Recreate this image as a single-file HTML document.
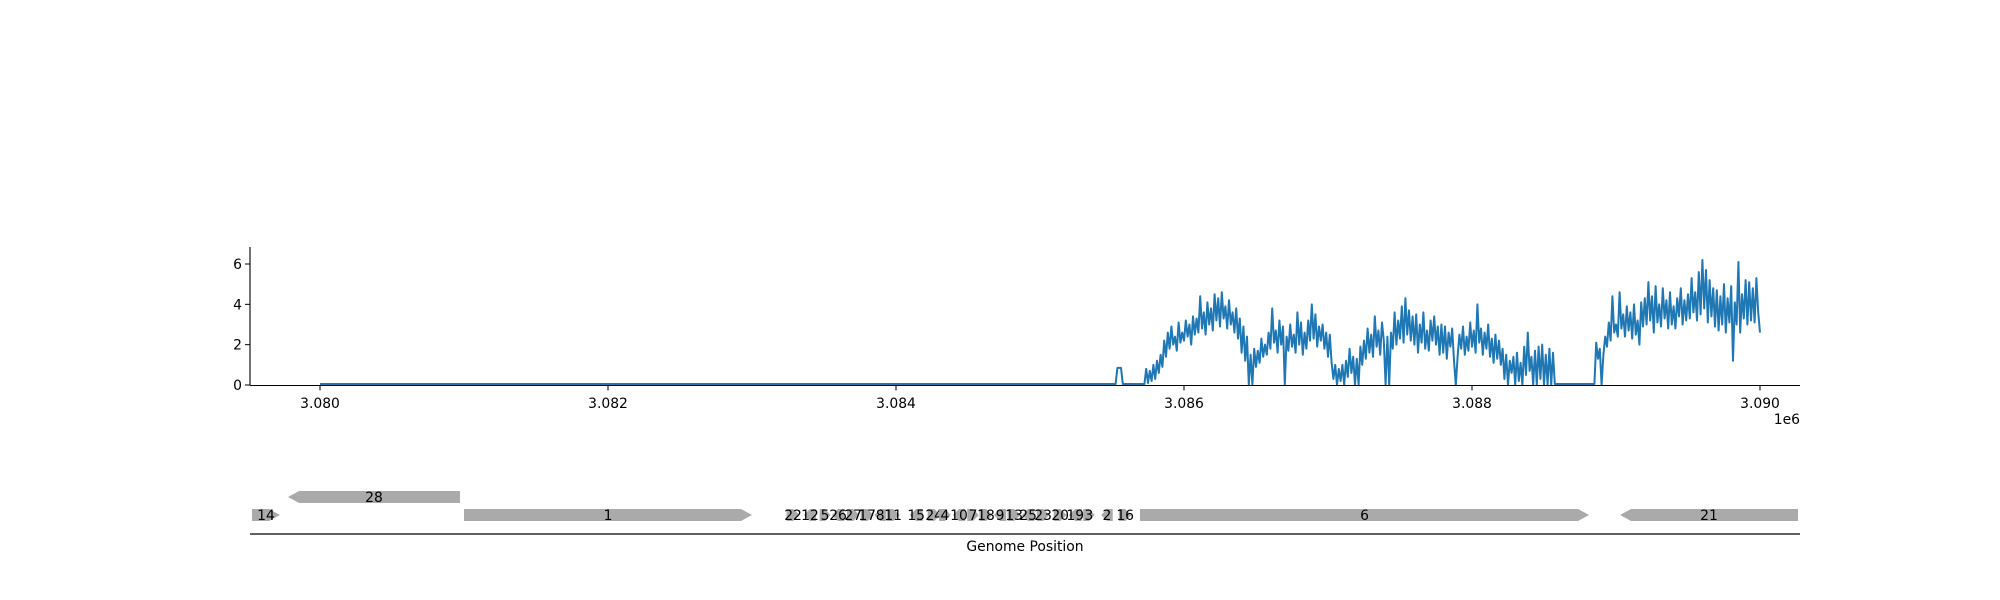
<!DOCTYPE html>
<html><head><meta charset="utf-8"><title>Coverage and gene track</title>
<style>
html,body{margin:0;padding:0;background:#fff;}
svg{display:block;font-family:"DejaVu Sans","Liberation Sans",sans-serif;}
</style></head>
<body>
<svg id="chart" width="2000" height="600" viewBox="0 0 2000 600" xmlns="http://www.w3.org/2000/svg">
<g id="cov"></g>
<g id="genes"></g>
</svg>
<script>
const flatStart = 3080000;
const flatValue = 0.05;
const stepBp = 12.5;
const covStarts = [3085500, 3085700, 3088850];
const covBlockA = [0.05,0.05,0.05,0.85,0.85,0.85,0.05,0.05];
const covBlockB = [
0.05,0.05,0.05,0.8,0.1,0.7,0.2,1.0, 0.3,1.2,0.6,1.5,0.9,2.2,1.4,2.6,
1.8,2.9,2.0,2.4,1.7,3.1,2.1,2.6, 2.2,3.2,2.4,3.0,2.0,3.4,2.5,3.3,
2.6,4.4,2.8,3.6,2.5,4.1,3.0,3.8, 2.7,4.5,3.2,4.3,2.9,4.6,3.3,3.9,
2.8,4.2,3.0,3.6,2.6,3.8,2.3,3.3, 1.6,2.9,1.2,2.4,0.0,1.5,0.0,1.8,
0.9,1.7,1.1,2.3,1.4,2.0,1.5,2.6, 1.8,3.8,2.1,2.7,1.6,3.2,2.0,2.9,
0.0,2.4,1.7,3.0,1.9,2.5,1.6,3.6, 2.0,3.1,1.5,2.6,1.8,3.2,2.2,4.0,
2.3,3.5,1.9,2.9,2.2,3.0,1.8,2.6, 1.4,2.5,1.1,0.3,1.0,0.0,0.8,0.2,
1.0,0.0,1.2,0.4,1.8,0.6,1.4,0.0, 1.3,0.0,1.9,1.0,2.2,1.3,2.8,1.6,
2.5,1.4,3.4,1.9,2.7,1.5,3.1,2.2, 0.0,2.4,0.0,2.6,1.8,3.6,2.0,3.2,
2.3,3.9,2.1,4.3,2.5,3.7,2.2,3.4, 2.0,3.5,1.6,3.0,2.1,3.6,1.8,2.7,
1.7,3.2,2.2,3.4,2.0,2.9,1.5,3.0, 1.6,2.9,1.3,2.6,1.9,2.8,1.2,0.0,
1.4,2.5,1.8,2.9,1.5,2.4,1.7,3.1, 1.9,2.7,1.6,4.0,2.1,2.8,1.5,2.6,
1.8,3.0,1.4,2.3,1.1,2.5,1.3,2.2, 1.0,1.8,0.3,1.5,0.0,1.2,0.6,1.4,
0.0,1.6,0.2,1.1,0.0,1.9,0.5,2.6, 0.7,1.4,0.0,1.7,0.0,1.9,0.3,2.0,
0.0,1.5,0.0,1.8,0.0,1.6,0.05,0.05
];
const covBlockC = [
0.05,2.1,1.3,1.8, 0.0,1.5,2.4,1.9,3.1,2.2,4.4,2.6,
3.0,2.4,4.6,2.8,3.5,2.4,3.9,2.7, 3.6,2.3,4.0,2.5,3.2,2.0,4.1,2.9,
4.3,3.0,5.1,3.2,4.4,2.6,4.9,3.1, 4.0,2.9,4.8,3.3,4.2,2.8,4.6,3.0,
3.9,2.8,4.3,3.4,4.8,3.0,4.2,3.2, 4.5,3.3,5.3,3.6,4.6,3.2,5.6,3.5,
6.2,3.8,5.7,3.1,5.2,3.4,4.8,2.9, 4.7,2.7,4.4,3.0,5.0,2.6,4.3,3.1,
4.9,1.2,4.1,3.0,6.1,2.6,4.5,3.3, 5.2,3.0,5.1,3.2,4.8,3.1,5.3,3.6,
2.6
];
const covBlocks = [covBlockA, covBlockB, covBlockC];
const xTicks = [3080000,3082000,3084000,3086000,3088000,3090000];
const xTickLabels = ["3.080","3.082","3.084","3.086","3.088","3.090"];
const yTicks = [0,2,4,6];
const yTickLabels = ["0","2","4","6"];

const geneNames  = ["14","28","1","6","21","22","12","5","26","27","17","8","11","15","24","4","10","7","18","9","13","25","23","20","19","3","2","16"];
const geneStart  = [3079528,3079778,3081000,3085694,3089028,3083240,3083360,3083470,3083555,3083660,3083755,3083850,3083935,3084095,3084220,3084300,3084395,3084495,3084580,3084680,3084775,3084875,3084978,3085095,3085200,3085300,3085425,3085548];
const geneEnd    = [3079722,3080972,3083000,3088813,3090264,3083330,3083445,3083545,3083640,3083745,3083845,3083930,3084025,3084185,3084310,3084380,3084480,3084575,3084670,3084765,3084865,3084960,3085065,3085185,3085290,3085380,3085505,3085635];
const geneStrand = [1,-1,1,1,-1,1,-1,1,-1,1,1,-1,1,-1,1,1,-1,1,1,-1,1,-1,1,1,-1,1,-1,1];
const geneRow    = [0,1,0,0,0,0,0,0,0,0,0,0,0,0,0,0,0,0,0,0,0,0,0,0,0,0,0,0];

const X0 = 250, X1 = 1800;
const xScale = bp => 320 + (bp - 3080000) * 0.144;
const yScale = v => 385 - v * (121 / 6);
const NS = "http://www.w3.org/2000/svg";
function mk(tag, attrs, parent){const e=document.createElementNS(NS,tag);for(const k in attrs)e.setAttribute(k,attrs[k]);parent.appendChild(e);return e;}

const cov = document.getElementById('cov');
const pts = [[flatStart, flatValue]];
covBlocks.forEach((blk,b)=>blk.forEach((v,i)=>pts.push([covStarts[b] + i*stepBp, v])));
const line = mk('path',{d:pts.map((p,i)=>(i?'L':'M')+xScale(p[0]).toFixed(2)+','+yScale(p[1]).toFixed(2)).join(''),fill:'none',stroke:'#1f77b4','stroke-width':2,'stroke-linejoin':'round'},cov);


const ls = mk('line',{x1:X0,y1:247,x2:X0,y2:385.5,stroke:'#000','stroke-width':1.1},cov);


const bs = mk('line',{x1:X0,y1:385.5,x2:X1,y2:385.5,stroke:'#000','stroke-width':1.1},cov);


xTicks.forEach((t,i)=>{
  const x=xScale(t);
  const tk=mk('line',{x1:x,y1:385.5,x2:x,y2:390.5,stroke:'#000','stroke-width':1},cov);
  
  
  const tl=mk('text',{x:x,y:408,'font-size':13.9,'text-anchor':'middle',fill:'#000'},cov);
  tl.textContent=xTickLabels[i];
  
  
});
yTicks.forEach((t,i)=>{
  const y=yScale(t);
  const tk=mk('line',{x1:X0-5,y1:y,x2:X0,y2:y,stroke:'#000','stroke-width':1},cov);
  
  
  const tl=mk('text',{x:X0-8,y:y+5,'font-size':13.9,'text-anchor':'end',fill:'#000'},cov);
  tl.textContent=yTickLabels[i];
  
  
});
const off=mk('text',{x:1800,y:424,'font-size':13.9,'text-anchor':'end',fill:'#000'},cov);
off.textContent='1e6';



const g = document.getElementById('genes');
const rowY = [515, 497];
const H = 12;
geneNames.forEach((n,i)=>{
  const a=xScale(geneStart[i]), b=xScale(geneEnd[i]), cy=rowY[geneRow[i]];
  const head=Math.min(11,(b-a)*0.5);
  let d;
  if(geneStrand[i]>0) d=`M${a},${cy-H/2}L${b-head},${cy-H/2}L${b},${cy}L${b-head},${cy+H/2}L${a},${cy+H/2}Z`;
  else d=`M${b},${cy-H/2}L${a+head},${cy-H/2}L${a},${cy}L${a+head},${cy+H/2}L${b},${cy+H/2}Z`;
  const p=mk('path',{d:d,fill:'#aaaaaa'},g);
  
  
  const t=mk('text',{x:(a+b)/2,y:cy+5,'font-size':13.9,'text-anchor':'middle',fill:'#000'},g);
  t.textContent=n;
  
  
});
const ga=mk('line',{x1:X0,y1:534,x2:X1,y2:534,stroke:'#000','stroke-width':1.3},g);


const gt=mk('text',{x:1025,y:551,'font-size':13.9,'text-anchor':'middle',fill:'#000'},g);
gt.textContent='Genome Position';


</script>
</body></html>
